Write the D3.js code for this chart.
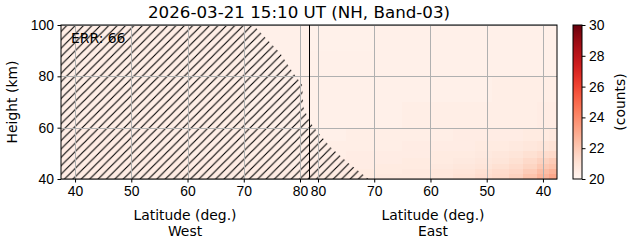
<!DOCTYPE html>
<html>
<head>
<meta charset="utf-8">
<script src="https://cdn.jsdelivr.net/npm/d3@7"></script>
<style>
  body { margin: 0; background: #fff; }
  svg { font-family: "DejaVu Sans", sans-serif; }
  .tick text { font-size: 13.9px; fill: #000; }
  .tick line { stroke: #000; }
</style>
</head>
<body>
<svg id="chart" width="631" height="243"></svg>
<script>
// chart values
const title = '2026-03-21 15:10 UT (NH, Band-03)';
const errLabel = 'ERR: 66';
const latTicks = [40, 50, 60, 70, 80];
const heightTicks = [40, 60, 80, 100];
const countTicks = [20, 22, 24, 26, 28, 30];

// cell edges (km, deg)
const heightEdges = [40, 42, 44, 46, 48, 51, 55, 60, 70, 80, 90, 100];
const westLatEdges = [37.5, 50, 60, 70, 76, 81.6];
const eastLatEdges = [81.6, 75, 70, 65, 60, 56, 52, 49, 46, 43.5, 41, 39, 37.5];

// counts per cell, rows from 40 km upward
const westCounts = [
  [20.5, 20.5, 20.5, 20.5, 20.5],
  [20.5, 20.5, 20.5, 20.5, 20.5],
  [20.5, 20.5, 20.5, 20.5, 20.4],
  [20.5, 20.5, 20.5, 20.4, 20.4],
  [20.5, 20.5, 20.4, 20.4, 20.4],
  [20.5, 20.4, 20.4, 20.4, 20.4],
  [20.5, 20.4, 20.4, 20.4, 20.3],
  [20.4, 20.4, 20.4, 20.3, 20.3],
  [20.4, 20.4, 20.4, 20.3, 20.3],
  [20.4, 20.4, 20.4, 20.3, 20.3],
  [20.4, 20.4, 20.4, 20.3, 20.3]
];
const eastCounts = [
  [20.6, 20.6, 20.7, 20.7, 20.8, 21.0, 21.2, 21.4, 21.7, 22.2, 22.7, 23.1],
  [20.5, 20.6, 20.6, 20.7, 20.8, 20.9, 21.1, 21.3, 21.5, 21.9, 22.4, 22.7],
  [20.5, 20.5, 20.6, 20.6, 20.7, 20.8, 20.9, 21.1, 21.3, 21.6, 22.0, 22.2],
  [20.5, 20.5, 20.5, 20.6, 20.6, 20.7, 20.8, 20.9, 21.1, 21.4, 21.7, 21.9],
  [20.4, 20.5, 20.5, 20.5, 20.6, 20.6, 20.7, 20.8, 20.9, 21.1, 21.3, 21.4],
  [20.4, 20.4, 20.4, 20.5, 20.5, 20.5, 20.6, 20.6, 20.7, 20.8, 20.9, 21.0],
  [20.3, 20.4, 20.4, 20.4, 20.4, 20.5, 20.5, 20.5, 20.5, 20.6, 20.6, 20.7],
  [20.3, 20.3, 20.3, 20.4, 20.4, 20.4, 20.4, 20.4, 20.4, 20.4, 20.5, 20.5],
  [20.3, 20.3, 20.3, 20.3, 20.3, 20.3, 20.3, 20.4, 20.4, 20.4, 20.4, 20.4],
  [20.3, 20.3, 20.3, 20.3, 20.3, 20.3, 20.3, 20.3, 20.3, 20.3, 20.3, 20.3],
  [20.25, 20.25, 20.3, 20.3, 20.3, 20.3, 20.3, 20.3, 20.3, 20.3, 20.3, 20.3]
];

// masked (hatched) regions [lat, km]
const hatchWest = [[37.5, 40], [37.5, 100], [71.7, 100], [76.5, 89], [78.8, 81.3],
  [80.4, 76.6], [80.6, 68.1], [81.6, 63], [81.6, 40]];
const hatchEast = [[81.6, 63], [80.8, 60.3], [77.8, 52.5], [74.6, 46.2], [71.0, 40], [81.6, 40]];

const svg = d3.select('#chart');

const pLeft = 61, pMid = 309, pRight = 557, pTop = 25, pBottom = 179;

let xWest = d3.scaleLinear().domain([37.5, 81.6]).range([pLeft, pMid]);
let xEast = d3.scaleLinear().domain([81.6, 37.5]).range([pMid, pRight]);
let yScale = d3.scaleLinear().domain([40, 100]).range([pBottom, pTop]);
let color = d3.scaleSequential(d3.interpolateReds).domain([20, 30]);

const defs = svg.append('defs');

const hs = 8.4;
const hatch = defs.append('pattern')
  .attr('id', 'hatch')
  .attr('patternUnits', 'userSpaceOnUse')
  .attr('width', hs)
  .attr('height', hs);

hatch.append('path')
  .attr('d', `M-1,1 l2,-2 M0,${hs} l${hs},${-hs} M${hs - 1},${hs + 1} l2,-2`)
  .attr('stroke', '#000')
  .attr('stroke-width', 1.1)
  .attr('fill', 'none');

const drawCells = (edges, counts, x) => {
  let cells = [];
  counts.forEach((row, i) => {
    row.forEach((v, j) => {
      cells.push({ x0: edges[j], x1: edges[j + 1], y0: heightEdges[i], y1: heightEdges[i + 1], v: v });
    });
  });

  svg.append('g')
    .selectAll('rect')
    .data(cells)
    .enter()
    .append('rect')
    .attr('x', d => Math.min(x(d.x0), x(d.x1)))
    .attr('width', d => Math.abs(x(d.x1) - x(d.x0)))
    .attr('y', d => yScale(d.y1))
    .attr('height', d => yScale(d.y0) - yScale(d.y1))
    .attr('fill', d => color(d.v))
    .attr('shape-rendering', 'crispEdges');
};

drawCells(westLatEdges, westCounts, xWest);
drawCells(eastLatEdges, eastCounts, xEast);

const hatchLine = (x) => d3.line().x(d => x(d[0])).y(d => yScale(d[1]));

svg.append('path')
  .datum(hatchWest)
  .attr('d', d => hatchLine(xWest)(d) + 'Z')
  .attr('fill', 'url(#hatch)');

svg.append('path')
  .datum(hatchEast)
  .attr('d', d => hatchLine(xEast)(d) + 'Z')
  .attr('fill', 'url(#hatch)');

// grid
const grid = svg.append('g')
  .attr('stroke', '#b0b0b0')
  .attr('stroke-width', 1);

[xWest, xEast].forEach(x => {
  grid.selectAll(null)
    .data(latTicks)
    .enter()
    .append('line')
    .attr('x1', d => Math.round(x(d)) + 0.5)
    .attr('x2', d => Math.round(x(d)) + 0.5)
    .attr('y1', pTop)
    .attr('y2', pBottom);
});

grid.selectAll(null)
  .data(heightTicks)
  .enter()
  .append('line')
  .attr('x1', pLeft)
  .attr('x2', pRight)
  .attr('y1', d => Math.round(yScale(d)) + 0.5)
  .attr('y2', d => Math.round(yScale(d)) + 0.5);

svg.append('text')
  .attr('x', 71)
  .attr('y', 43)
  .attr('font-size', 13.9)
  .text(errLabel);

// axes
svg.append('g')
  .attr('transform', 'translate(0,' + pBottom + ')')
  .call(d3.axisBottom(xWest).tickValues(latTicks).tickSize(3.5).tickPadding(3.5));

svg.append('g')
  .attr('transform', 'translate(0,' + pBottom + ')')
  .call(d3.axisBottom(xEast).tickValues(latTicks).tickSize(3.5).tickPadding(3.5));

svg.append('g')
  .attr('transform', 'translate(' + pLeft + ',0)')
  .call(d3.axisLeft(yScale).tickValues(heightTicks).tickSize(3.5).tickPadding(3.5));

svg.selectAll('.domain').remove();

// spines
svg.append('rect')
  .attr('x', pLeft)
  .attr('y', pTop)
  .attr('width', pRight - pLeft)
  .attr('height', pBottom - pTop)
  .attr('fill', 'none')
  .attr('stroke', '#000')
  .attr('stroke-width', 1);

svg.append('line')
  .attr('x1', pMid + 0.5)
  .attr('x2', pMid + 0.5)
  .attr('y1', pTop)
  .attr('y2', pBottom)
  .attr('stroke', '#000')
  .attr('stroke-width', 1);

// labels
svg.append('text')
  .attr('x', 299)
  .attr('y', 18)
  .attr('text-anchor', 'middle')
  .attr('font-size', 16.7)
  .text(title);

[[xWest, 'West'], [xEast, 'East']].forEach(([x, side]) => {
  let cx = (x.range()[0] + x.range()[1]) / 2;
  svg.append('text')
    .attr('x', cx)
    .attr('y', 220)
    .attr('text-anchor', 'middle')
    .attr('font-size', 13.9)
    .text('Latitude (deg.)');
  svg.append('text')
    .attr('x', cx)
    .attr('y', 236)
    .attr('text-anchor', 'middle')
    .attr('font-size', 13.9)
    .text(side);
});

svg.append('text')
  .attr('transform', 'translate(17,' + ((pTop + pBottom) / 2) + ') rotate(-90)')
  .attr('text-anchor', 'middle')
  .attr('font-size', 13.9)
  .text('Height (km)');

// colorbar
const cbX = 573, cbW = 9;
let cScale = d3.scaleLinear().domain([20, 30]).range([pBottom, pTop]);

const grad = defs.append('linearGradient')
  .attr('id', 'cb')
  .attr('x1', 0).attr('y1', 1)
  .attr('x2', 0).attr('y2', 0);

grad.selectAll('stop')
  .data(d3.range(0, 1.0001, 0.05))
  .enter()
  .append('stop')
  .attr('offset', d => d)
  .attr('stop-color', d => d3.interpolateReds(d));

svg.append('rect')
  .attr('x', cbX)
  .attr('y', pTop)
  .attr('width', cbW)
  .attr('height', pBottom - pTop)
  .attr('fill', 'url(#cb)')
  .attr('stroke', '#000')
  .attr('stroke-width', 1);

svg.append('g')
  .attr('transform', 'translate(' + (cbX + cbW) + ',0)')
  .call(d3.axisRight(cScale).tickValues(countTicks).tickSize(3.5).tickPadding(3.5))
  .select('.domain').remove();

svg.append('text')
  .attr('transform', 'translate(625,' + ((pTop + pBottom) / 2) + ') rotate(-90)')
  .attr('text-anchor', 'middle')
  .attr('font-size', 13.9)
  .text('(counts)');
</script>
</body>
</html>
